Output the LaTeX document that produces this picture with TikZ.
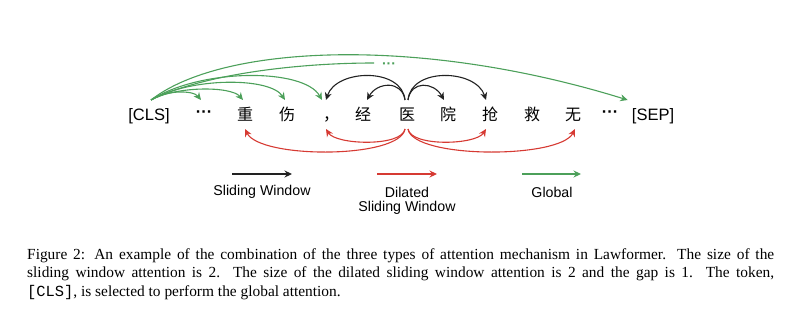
\documentclass[tikz,border=0pt]{standalone}
\usepackage{fontspec}
\setmainfont{Liberation Serif}
\setsansfont{Liberation Sans}
\setmonofont{Liberation Mono}
\newfontfamily\cjk{Noto Sans CJK SC}
\usetikzlibrary{arrows.meta}
\definecolor{swblack}{HTML}{222222}
\definecolor{dred}{HTML}{D63A33}
\definecolor{ggreen}{HTML}{4CA05A}
\tikzset{
  tok/.style={anchor=base, font=\sffamily\fontsize{16.5}{18}\selectfont, text height=12pt, text depth=1pt, inner xsep=1pt, inner ysep=0pt, outer ysep=8pt},
  ctok/.style={tok, font=\cjk\fontsize{16}{18}\selectfont},
  arr/.style={line width=1.1pt, -{Stealth[length=7.5pt,width=7pt]}},
  swarr/.style={arr, draw=swblack},
  dsarr/.style={arr, draw=dred},
  glarr/.style={arr, draw=ggreen},
  legtxt/.style={font=\sffamily\fontsize{14.2}{16}\selectfont, inner sep=0pt}
}
\newcommand{\tokdots}{\raisebox{3pt}{\bfseries···}}
\begin{document}
\begin{tikzpicture}[x=1pt,y=-1pt]
\useasboundingbox (0,0) rectangle (810,313);
% tokens
\node[tok]  (cls)    at (149,120) {[CLS]};
\node[tok]  (d1)     at (204,120) {\tokdots};
\node[ctok] (zhong)  at (245,120) {重};
\node[ctok] (shang)  at (287,120) {伤};
\node[ctok] (comma)  at (331,120) {，};
\node[ctok] (jing)   at (363,120) {经};
\node[ctok] (yi)     at (407,120) {医};
\node[ctok] (yuan)   at (448,120) {院};
\node[ctok] (qiang)  at (490,120) {抢};
\node[ctok] (jiu)    at (532,120) {救};
\node[ctok] (wu)     at (573,120) {无};
\node[tok]  (d2)     at (610,120) {\tokdots};
\node[tok]  (sep)    at (653,120) {[SEP]};
% sliding window (black)
\draw[swarr] ([xshift=-2pt]yi.north) .. controls +(-3,-33) and +(10,-31) .. ([xshift=-5pt]comma.north);
\draw[swarr] ([xshift=-2pt]yi.north) .. controls +(-3,-20) and +(10,-18) .. ([xshift=4pt]jing.north);
\draw[swarr] ([xshift=1pt]yi.north) .. controls +(3,-20) and +(-10,-18) .. ([xshift=-4pt]yuan.north);
\draw[swarr] ([xshift=1pt]yi.north) .. controls +(3,-33) and +(-10,-31) .. ([xshift=-4pt]qiang.north);
% dilated sliding window (red)
\draw[dsarr] ([xshift=-2pt]yi.south) .. controls +(-3,18) and +(10,16) .. ([xshift=-5pt]comma.south);
\draw[dsarr] ([xshift=-2pt]yi.south) .. controls +(-5,30) and +(15,30) .. (zhong.south);
\draw[dsarr] ([xshift=1pt]yi.south) .. controls +(3,18) and +(-10,16) .. ([xshift=-4pt]qiang.south);
\draw[dsarr] ([xshift=1pt]yi.south) .. controls +(5,30) and +(-15,30) .. ([xshift=2pt]wu.south);
% global (green)
\draw[glarr] ([xshift=2pt]cls.north) .. controls +(15,-10) and +(-8,-10) .. ([xshift=-3pt]d1.north);
\draw[glarr] ([xshift=2pt]cls.north) .. controls +(25,-14) and +(-12,-14) .. ([xshift=-2pt]zhong.north);
\draw[glarr] ([xshift=2pt]cls.north) .. controls +(40,-23) and +(-15,-23) .. ([xshift=-2pt]shang.north);
\draw[glarr] ([xshift=2pt]cls.north) .. controls +(50,-32) and +(-18,-32) .. ([xshift=-9pt]comma.north);
\node[anchor=base, text=ggreen, font=\sffamily\bfseries\fontsize{14}{16}\selectfont, inner sep=0pt] (gd) at (389,68.5) {···};
\coordinate (gend) at (374,63);
\draw[ggreen, line width=1.1pt] ([xshift=2pt]cls.north) .. controls +(50,-25) and +(-80,0) .. (gend);
\draw[glarr] ([xshift=2pt]cls.north) .. controls +(70,-55) and +(-210,-65) .. ([xshift=-3pt]sep.north west);
% legend
\coordinate (l1a) at (232,174); \coordinate (l1b) at (292,174);
\coordinate (l2a) at (377,174); \coordinate (l2b) at (437,174);
\coordinate (l3a) at (522,174); \coordinate (l3b) at (581,174);
\draw[swarr] (l1a) -- (l1b);
\draw[dsarr] (l2a) -- (l2b);
\draw[glarr] (l3a) -- (l3b);
\node[legtxt] (lt1) at (262,192) {Sliding Window};
\node[legtxt] (lt2) at (407,192) {Dilated};
\node[legtxt] (lt2b) at (407,208) {Sliding Window};
\node[legtxt] (lt3) at (552,192) {Global};
% caption
\node[anchor=base west, text width=747pt, inner sep=0pt, align=justify,
      font=\fontsize{15.4}{18.5}\selectfont] (cap) at (27,259)
  {\hyphenpenalty=10000\tolerance=10000 Figure 2: An example of the combination of the three types of attention mechanism in Lawformer. The size of the\linebreak sliding window attention is 2. The size of the dilated sliding window attention is 2 and the gap is 1. The token,\linebreak \texttt{[CLS]}, is selected to perform the global attention.};
\end{tikzpicture}
\end{document}
